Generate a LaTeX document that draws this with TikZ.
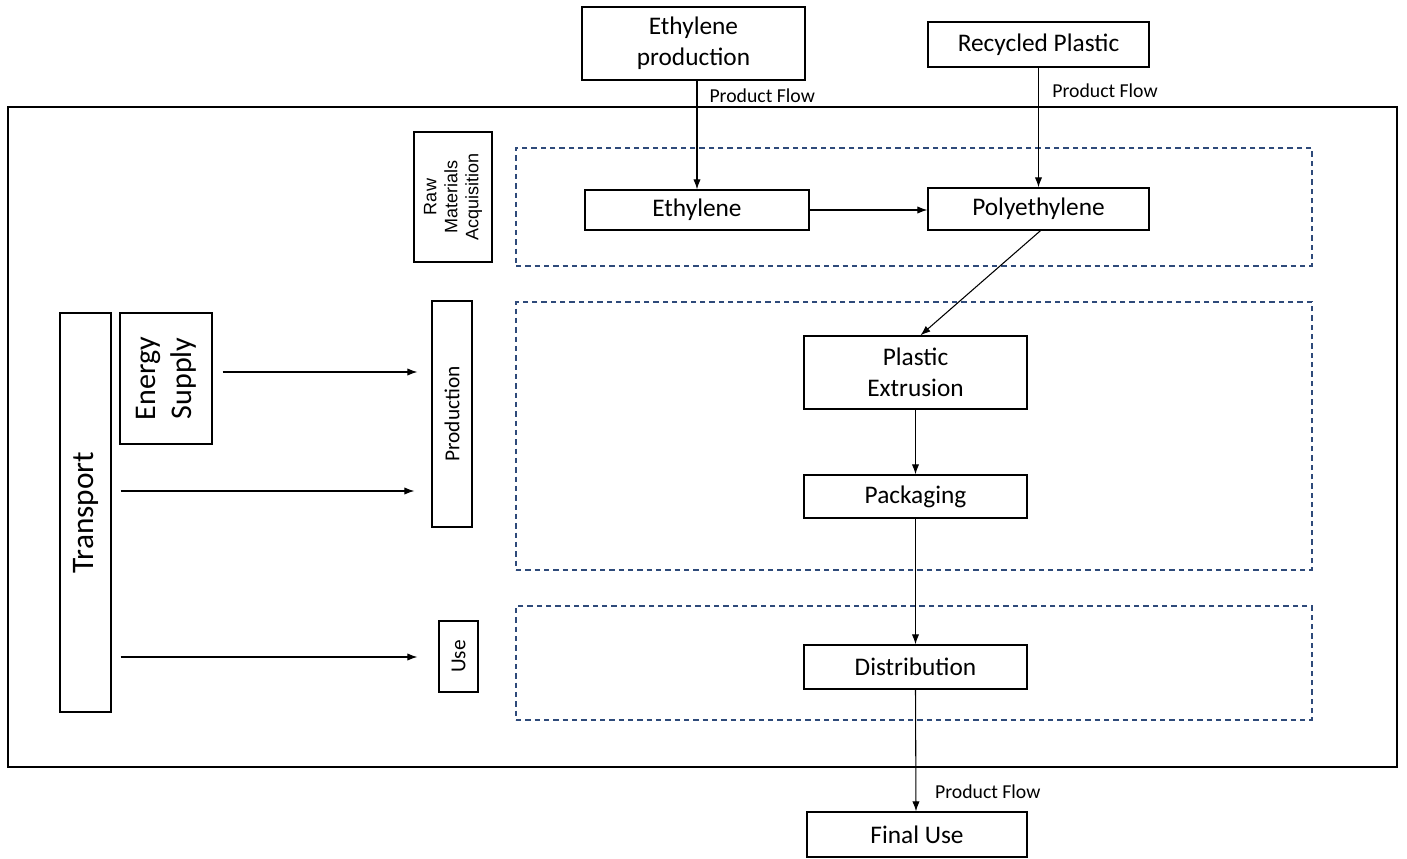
\documentclass[tikz,border=0pt]{standalone}
\usepackage{fontspec}
\setmainfont{Carlito}
\newfontfamily\arialf{Liberation Sans}
\usetikzlibrary{arrows.meta,fit,calc}
\definecolor{dashblue}{HTML}{2E4A7A}
\tikzset{
  frm/.style={draw, line width=1pt, inner sep=0pt},
  box/.style={frm, label={[align=center, font=\fontsize{19}{23}\selectfont]center:#1}},
  vbox/.style={frm, label={[rotate=90, align=center, font=\fontsize{16}{19}\selectfont]center:#1}},
  stage/.style={draw=dashblue, line width=0.9pt, dash pattern=on 4pt off 3pt, inner sep=0pt},
  arr/.style={-{Latex[length=7.5pt,width=5.5pt]}, line width=0.8pt},
  flowlbl/.style={font=\fontsize{14.8}{17}\selectfont, anchor=west, inner sep=0pt},
}
\begin{document}
\begin{tikzpicture}[x=0.75pt,y=-0.75pt]
\useasboundingbox (0,0) rectangle (1407,859);
% outer frame
\node[frm, fit={(8,107)(1397,767)}] (frame) {};
% stages
\node[stage, fit={(516,148)(1312,266)}] (s1) {};
\node[stage, fit={(516,302)(1312,570)}] (s2) {};
\node[stage, fit={(516,606)(1312,720)}] (s3) {};
% top boxes
\node[box={Ethylene\\production}, fit={(582,7)(805,80)}] (ep) {};
\node[box={Recycled Plastic}, fit={(928,22)(1149,67)}] (rp) {};
% raw materials
\node[frm, fit={(414,132)(492,262)},
  label={[rotate=90, align=center, font=\arialf\fontsize{13.5}{15.8}\selectfont]center:Raw\\Materials\\Acquisition}] (raw) {};
\node[box={Ethylene}, fit={(585,190)(809,230)}] (eth) {};
\node[box={Polyethylene}, fit={(928,188)(1149,230)}] (poly) {};
% production
\node[vbox={Production}, fit={(432,301)(472,527)}] (prod) {};
\node[box={Plastic\\Extrusion}, fit={(804,336)(1027,409)}] (ext) {};
\node[box={Packaging}, fit={(804,475)(1027,518)}] (pack) {};
% use
\node[vbox={Use}, fit={(439,621)(478,692)}] (use) {};
\node[box={Distribution}, fit={(804,645)(1027,689)}] (dist) {};
\node[box={Final Use}, fit={(807,812)(1027,857)}] (final) {};
% left
\node[frm, fit={(60,313)(111,712)},
  label={[rotate=90, font=\fontsize{23.5}{28}\selectfont]center:Transport}] (tr) {};
\node[frm, fit={(120,313)(212,444)},
  label={[rotate=90, align=center, font=\fontsize{22.5}{27}\selectfont]center:Energy\\Supply}] (es) {};
% connectors
\draw[arr] (eth.north |- ep.south) -- node[flowlbl, pos=0.14, xshift=9pt] {Product Flow} (eth.north);
\draw[arr] (rp.south) -- node[flowlbl, pos=0.19, xshift=10pt] {Product Flow} (poly.north);
\draw[arr] (eth.east) -- (eth.east -| poly.west);
\draw[arr] ($(poly.south)+(2,0)$) -- ($(ext.north)+(5,0)$);
\draw[arr] (ext.south) -- (pack.north);
\draw[arr] (pack.south) -- (dist.north);
\draw[arr] (dist.south) -- node[flowlbl, pos=0.84, xshift=14pt] {Product Flow} ($(final.north)+(-1,0)$);
\coordinate (a1s) at ($(es.east |- 0,372)+(10,0)$);
\coordinate (a1e) at ($(prod.west |- 0,372)+(-14,0)$);
\draw[arr] (a1s) -- (a1e);
\coordinate (a2s) at ($(tr.east |- 0,491)+(9,0)$);
\coordinate (a2e) at ($(prod.west |- 0,491)+(-17,0)$);
\draw[arr] (a2s) -- (a2e);
\coordinate (a3s) at ($(tr.east |- 0,657)+(9,0)$);
\coordinate (a3e) at ($(use.west |- 0,657)+(-21,0)$);
\draw[arr] (a3s) -- (a3e);
\end{tikzpicture}
\end{document}
